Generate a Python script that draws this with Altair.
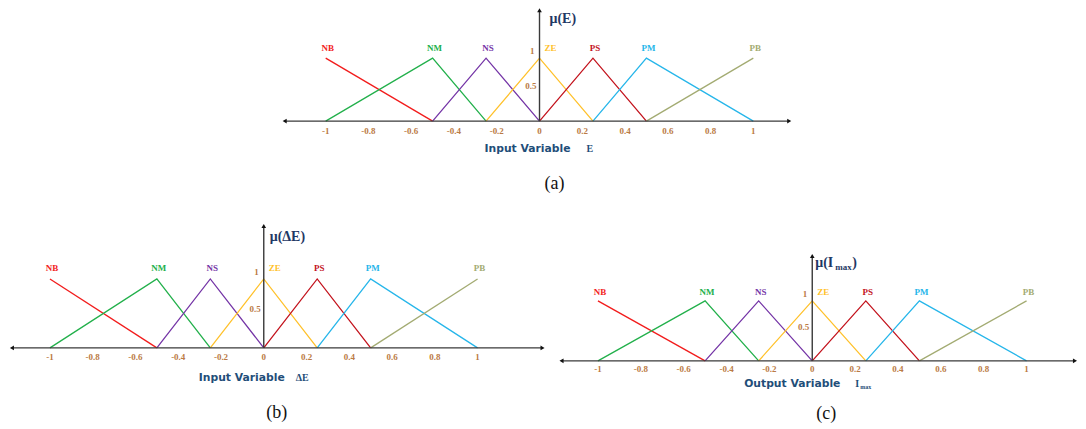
import altair as alt
import pandas as pd

# ---- data ----
sets = ["NB", "NM", "NS", "ZE", "PS", "PM", "PB"]
set_x = [
    [-1, -0.5],
    [-1, -0.5, -0.25],
    [-0.5, -0.25, 0],
    [-0.25, 0, 0.25],
    [0, 0.25, 0.5],
    [0.25, 0.5, 1],
    [0.5, 1],
]
set_mu = [
    [1, 0],
    [0, 1, 0],
    [0, 1, 0],
    [0, 1, 0],
    [0, 1, 0],
    [0, 1, 0],
    [0, 1],
]
peak_x = [-1, -0.5, -0.25, 0, 0.25, 0.5, 1]
ticks = [-1, -0.8, -0.6, -0.4, -0.2, 0, 0.2, 0.4, 0.6, 0.8, 1]
tick_labels = ["-1", "-0.8", "-0.6", "-0.4", "-0.2", "0", "0.2", "0.4", "0.6", "0.8", "1"]
mu_ticks = [1, 0.5]
mu_tick_labels = ["1", "0.5"]

colors = ["#f21c1c", "#22b04b", "#7434a6", "#ffc12a", "#c3121c", "#26b6ea", "#a3ab72"]

rows = []
for s, xs, ys in zip(sets, set_x, set_mu):
    for i, (xv, yv) in enumerate(zip(xs, ys)):
        rows.append({"set": s, "x": xv, "y": yv, "i": i})
mf = pd.DataFrame(rows)
peaks = pd.DataFrame({"set": sets, "x": peak_x, "y": [1] * len(sets)})
tick_df = pd.DataFrame({"x": ticks, "y": [0] * len(ticks), "t": tick_labels})
mu_df = pd.DataFrame({"x": [0, 0], "y": mu_ticks, "t": mu_tick_labels})

AXIS_C = "#3a3a3a"
TICK_C = "#bb7b45"
MU_C = "#1f3864"
TITLE_C = "#1f4e79"
SERIF = "Liberation Serif"
COLOR = alt.Color("set:N", scale=alt.Scale(domain=sets, range=colors), legend=None)


def panel(p):
    xsc = alt.Scale(domain=p["xdom"], nice=False, zero=False)
    ysc = alt.Scale(domain=p["ydom"], nice=False, zero=False)
    X = lambda f: alt.X(f, scale=xsc, axis=None)
    Y = lambda f: alt.Y(f, scale=ysc, axis=None)
    xmin, xmax, ytop = p["ext"]
    ax = pd.DataFrame({"x": [xmin], "x2": [xmax], "y": [0]})
    ay = pd.DataFrame({"x": [0], "y": [0], "y2": [ytop]})
    lines = alt.Chart(mf).mark_line(strokeWidth=1.3).encode(
        x=X("x:Q"), y=Y("y:Q"), color=COLOR, order="i:O",
    )
    xaxis = alt.Chart(ax).mark_rule(color=AXIS_C, strokeWidth=1.4).encode(x=X("x:Q"), x2="x2:Q", y=Y("y:Q"))
    yaxis = alt.Chart(ay).mark_rule(color=AXIS_C, strokeWidth=1.4).encode(x=X("x:Q"), y=Y("y:Q"), y2="y2:Q")

    def arrow(x, y, shape):
        return alt.Chart(pd.DataFrame({"x": [x], "y": [y]})).mark_point(
            shape=shape, filled=True, size=22, color="#111", opacity=1).encode(x=X("x:Q"), y=Y("y:Q"))

    layers = [lines, xaxis, yaxis,
              arrow(xmin, 0, "triangle-left"), arrow(xmax, 0, "triangle-right"), arrow(0, ytop, "triangle-up")]

    base_lab = alt.Chart(peaks).encode(x=X("x:Q"), y=Y("y:Q"), text="set:N", color=COLOR)
    layers.append(base_lab.transform_filter(alt.datum.set != "ZE").mark_text(
        font=SERIF, fontWeight="bold", fontSize=9, dy=-p["lab_dy"], dx=2, baseline="middle"))
    layers.append(base_lab.transform_filter(alt.datum.set == "ZE").mark_text(
        font=SERIF, fontWeight="bold", fontSize=9, dy=-p["lab_dy"], dx=11, baseline="middle"))

    layers.append(alt.Chart(tick_df).mark_text(
        font=SERIF, fontWeight="bold", fontSize=9, color=TICK_C, dy=p["tick_dy"], baseline="middle").encode(
        x=X("x:Q"), y=Y("y:Q"), text="t:N"))

    base_mu = alt.Chart(mu_df).encode(x=X("x:Q"), y=Y("y:Q"), text="t:N")
    layers.append(base_mu.transform_filter(alt.datum.t == "1").mark_text(
        font=SERIF, fontWeight="bold", fontSize=9, color=TICK_C, align="right", dx=-5, dy=-7, baseline="middle"))
    layers.append(base_mu.transform_filter(alt.datum.t != "1").mark_text(
        font=SERIF, fontWeight="bold", fontSize=9, color=TICK_C, align="right", dx=-3, dy=-4, baseline="middle"))

    def txt(t, x, y, dx, dy, **kw):
        d = pd.DataFrame({"x": [x], "y": [y], "t": [t]})
        return alt.Chart(d).mark_text(dx=dx, dy=dy, baseline="middle", **kw).encode(
            x=X("x:Q"), y=Y("y:Q"), text="t:N")

    for (t, dx, dy, size, align) in p["mu"]:
        layers.append(txt(t, 0, ytop, dx, dy, font=SERIF, fontWeight="bold", fontSize=size,
                          color=MU_C, align=align))
    tdx, tdy, ttext = p["title"]
    layers.append(txt(ttext, 0, 0, tdx, tdy, font="DejaVu Sans", fontWeight="bold", fontSize=10.8, color=TITLE_C))
    for (t, dx, dy, size) in p["var"]:
        layers.append(txt(t, 0, 0, dx, dy, font=SERIF, fontWeight="bold", fontSize=size, color=TITLE_C, align="left"))
    cdx, cdy, ctext = p["cap"]
    layers.append(txt(ctext, 0, 0, cdx, cdy, font=SERIF, fontSize=18, color="#111"))
    return alt.layer(*layers).properties(width=p["w"], height=p["h"])


pa = dict(
    w=1070, h=200, xdom=[-532 / 214, (1070 - 532) / 214], ydom=[-(200 - 112) / 63, 112 / 63],
    ext=[-1.192, 1.168, 1.76], lab_dy=10, tick_dy=10,
    mu=[("μ(E)", 10, 9, 14, "left")],
    title=(-12, 28, "Input Variable"),
    var=[("E", 47, 28, 10)],
    cap=(15, 63, "(a)"),
)
pb = dict(
    w=550, h=213, xdom=[-256 / 214, (550 - 256) / 214], ydom=[-(213 - 139) / 69, 139 / 69],
    ext=[-1.178, 1.304, 1.768], lab_dy=11, tick_dy=9,
    mu=[("μ(ΔE)", 6, 11, 14, "left")],
    title=(-22, 30, "Input Variable"),
    var=[("ΔE", 32, 30, 10)],
    cap=(13, 65, "(b)"),
)
pc = dict(
    w=520, h=213, xdom=[-255 / 214.5, (520 - 255) / 214.5], ydom=[-(213 - 152) / 60, 152 / 60],
    ext=[-1.170, 1.226, 1.75], lab_dy=9, tick_dy=8,
    mu=[("μ(I", 3, 7, 14, "left"), ("max", 23, 11, 9, "left"), (")", 40, 7, 14, "left")],
    title=(-20, 23, "Output Variable"),
    var=[("I", 43, 23, 10), ("max", 48, 26, 6)],
    cap=(14, 53, "(c)"),
)

chart = alt.vconcat(
    panel(pa),
    alt.hconcat(panel(pb), panel(pc), spacing=0),
    spacing=0,
).properties(padding=0).configure(background="white", view=alt.ViewConfig(stroke=None))

chart.save("out.html", embed_options={"renderer": "svg", "actions": False})
